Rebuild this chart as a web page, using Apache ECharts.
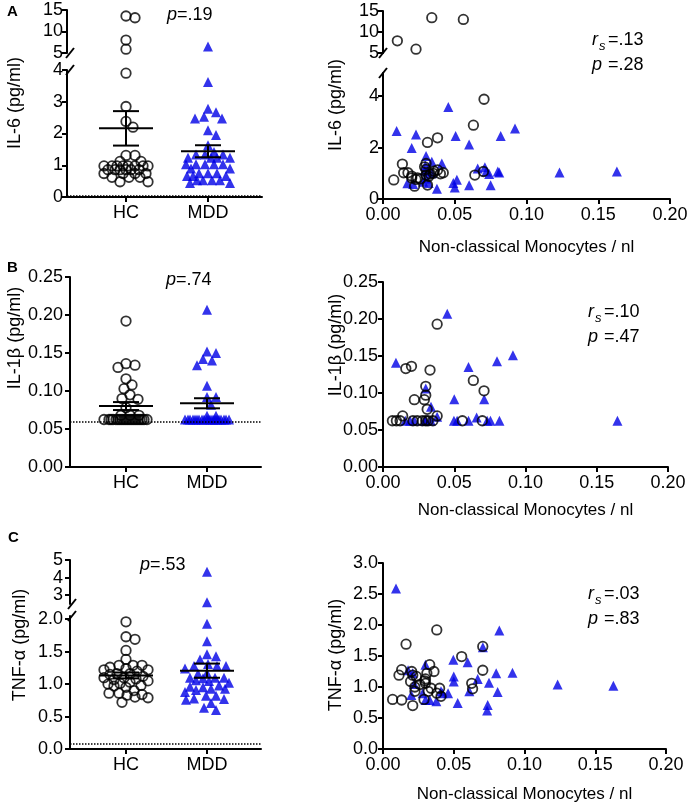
<!DOCTYPE html>
<html><head><meta charset="utf-8">
<script src="https://cdn.jsdelivr.net/npm/echarts@6/dist/echarts.min.js"></script>
<style>html,body{margin:0;padding:0;background:#fff}#c{width:691px;height:806px}</style>
</head><body><div id="c"></div>
<script>
// ---------------- DATA ----------------
const groups = ['HC', 'MDD'];
const xTitle = 'Non-classical Monocytes / nl';

const il6HC = [13.6, 13.2, 8.0, 5.9, 3.9, 2.85, 2.38, 2.2, 1.31, 1.31, 1.12, 1.12, 0.98, 0.98, 0.98, 0.98, 0.98, 0.98, 0.98, 0.98, 0.86, 0.86, 0.86, 0.86, 0.86, 0.86, 0.74, 0.74, 0.74, 0.74, 0.62, 0.62, 0.62, 0.48, 0.48];
const il6MDD = [6.5, 3.62, 2.78, 2.67, 2.53, 2.47, 2.47, 2.1, 1.95, 1.63, 1.42, 1.34, 1.34, 1.34, 1.24, 1.24, 1.24, 1.24, 1.03, 1.03, 1.03, 1.03, 1.03, 0.9, 0.9, 0.75, 0.75, 0.75, 0.66, 0.66, 0.66, 0.53, 0.53, 0.53, 0.53, 0.44, 0.44];

const il1bHC = [0.192, 0.136, 0.134, 0.131, 0.116, 0.108, 0.103, 0.095, 0.090, 0.089, 0.078, 0.068, 0.068, 0.068,
  0.0625, 0.0625, 0.0625, 0.0625, 0.0625, 0.0625, 0.0625, 0.0625, 0.0625, 0.0625,
  0.0625, 0.0625, 0.0625, 0.0625, 0.0625, 0.0625, 0.0625, 0.0625, 0.0625, 0.0625];
const il1bMDD = [0.207, 0.152, 0.150, 0.142, 0.140, 0.134, 0.107, 0.092, 0.092, 0.082, 0.0675, 0.0675,
  0.0625, 0.0625, 0.0625, 0.0625, 0.0625, 0.0625, 0.0625, 0.0625, 0.0625, 0.0625,
  0.0625, 0.0625, 0.0625, 0.0625, 0.0625, 0.0625, 0.0625, 0.0625, 0.0625, 0.0625];

const tnfHC = [1.96, 1.73, 1.69, 1.52, 1.38, 1.29, 1.29, 1.29, 1.26, 1.24, 1.22, 1.22, 1.2, 1.16, 1.16, 1.15, 1.12, 1.10, 1.10, 1.08, 1.07, 1.05, 1.03, 1.01, 1.0, 0.98, 0.97, 0.95, 0.9, 0.86, 0.86, 0.84, 0.83, 0.8, 0.79, 0.72];
const tnfMDD = [4.33, 2.6, 1.93, 1.66, 1.46, 1.43, 1.38, 1.31, 1.28, 1.28, 1.28, 1.24, 1.17, 1.16, 1.10, 1.10, 1.10, 1.09, 1.06, 1.05, 1.02, 0.98, 0.96, 0.95, 0.93, 0.93, 0.91, 0.88, 0.82, 0.82, 0.78, 0.77, 0.76, 0.71, 0.635, 0.60];

// detection limits (dotted lines)
const lodIl6 = 0.05;
const lodIl1b = 0.0625;
const lodTnf = 0.08;

// scatter: [monocytes/nl, cytokine]
const scIl6HC = [[0.034,13.4],[0.056,13.0],[0.010,7.9],[0.023,5.9],[0.0704,3.88],[0.063,2.87],[0.038,2.38],[0.031,2.2],
  [0.0135,1.36],[0.0144,1.02],[0.0174,1.02],[0.0075,0.74],[0.020,0.89],[0.023,0.76],[0.022,0.5],[0.030,1.38],[0.030,1.15],
  [0.030,0.93],[0.031,0.54],[0.035,1.0],[0.038,1.13],[0.042,1.02],[0.064,0.93],[0.024,0.82],[0.029,1.25],[0.033,0.97],
  [0.0355,1.08],[0.040,0.98],[0.070,1.07],[0.020,0.82],[0.026,0.78],[0.032,0.88]];
const scIl6MDD = [[0.0095,2.64],[0.023,2.51],[0.020,1.98],[0.0455,3.58],[0.0506,2.45],[0.060,2.12],[0.092,2.74],[0.082,2.45],
  [0.030,1.67],[0.034,1.45],[0.041,1.38],[0.0295,1.3],[0.017,0.61],[0.021,0.58],[0.028,0.67],[0.030,0.8],[0.0318,0.62],
  [0.031,1.07],[0.0376,0.4],[0.049,0.62],[0.0515,0.75],[0.050,0.45],[0.060,0.53],[0.066,1.19],[0.071,1.23],[0.072,1.07],
  [0.074,0.97],[0.075,0.53],[0.080,1.07],[0.081,1.03],[0.123,1.03],[0.163,1.07],[0.029,1.1],[0.034,1.0]];
const scIl1bHC = [[0.038,0.193],[0.016,0.133],[0.020,0.136],[0.033,0.131],[0.0634,0.117],[0.0709,0.103],[0.030,0.109],
  [0.030,0.097],[0.029,0.091],[0.022,0.091],[0.031,0.078],[0.038,0.069],[0.0138,0.069],[0.0066,0.0625],[0.0094,0.0625],
  [0.012,0.0625],[0.021,0.0625],[0.024,0.0625],[0.0276,0.0625],[0.030,0.0625],[0.0316,0.0625],[0.035,0.0625],[0.0557,0.0625],[0.0697,0.0625]];
const scIl1bMDD = [[0.0451,0.207],[0.0091,0.141],[0.0912,0.151],[0.080,0.143],[0.060,0.135],[0.030,0.106],[0.050,0.0915],
  [0.071,0.0915],[0.0337,0.0815],[0.038,0.068],[0.0657,0.067],[0.0156,0.0625],[0.019,0.0625],[0.022,0.0625],[0.0292,0.0625],
  [0.0336,0.0625],[0.0498,0.0625],[0.052,0.0625],[0.060,0.0625],[0.0731,0.0625],[0.0754,0.0625],[0.0817,0.0625],[0.1645,0.0625],[0.030,0.0625]];
const scTnfHC = [[0.038,1.92],[0.0163,1.69],[0.0705,1.655],[0.0556,1.49],[0.0705,1.27],[0.0132,1.28],[0.0113,1.19],[0.033,1.36],
  [0.036,1.25],[0.031,1.22],[0.0203,1.25],[0.021,1.19],[0.0236,1.17],[0.0195,1.09],[0.030,1.13],[0.030,1.06],[0.0295,1.1],
  [0.0226,0.93],[0.0225,1.0],[0.040,0.98],[0.041,0.85],[0.038,0.90],[0.034,0.98],[0.0627,1.06],[0.0633,0.97],[0.0068,0.80],
  [0.0132,0.79],[0.021,0.70],[0.029,0.8],[0.026,1.04],[0.032,0.93]];
const scTnfMDD = [[0.0092,2.59],[0.0822,1.91],[0.0706,1.64],[0.0497,1.44],[0.0598,1.40],[0.030,1.36],[0.050,1.17],[0.050,1.09],
  [0.080,1.22],[0.0915,1.23],[0.0669,1.13],[0.0749,1.07],[0.1234,1.04],[0.1628,1.02],[0.081,0.92],[0.061,0.93],[0.0528,0.74],
  [0.074,0.71],[0.0736,0.62],[0.0177,1.27],[0.021,1.22],[0.022,1.05],[0.020,0.87],[0.028,0.90],[0.030,0.79],[0.033,0.79],
  [0.0377,0.77],[0.042,0.9],[0.046,0.9],[0.041,0.93]];

// ---------------- LAYOUT / STYLE ----------------
const FONT = "'Liberation Sans', Arial, Helvetica, sans-serif";
const BLUE = '#0000e6';
const G = {
  aLu: {left: 67, top: 10, width: 195, height: 43, ymin: 5, ymax: 15, xmin: 0.2805, xmax: 2.6585},
  aLl: {left: 67, top: 70, width: 195, height: 127, ymin: 0, ymax: 4, xmin: 0.2805, xmax: 2.6585},
  aRu: {left: 383, top: 11, width: 287, height: 42, ymin: 5, ymax: 15, xmin: 0, xmax: 0.2},
  aRl: {left: 383, top: 73, width: 287, height: 126, ymin: 0, ymax: 4.9, xmin: 0, xmax: 0.2},
  bL:  {left: 70, top: 277, width: 191, height: 190, ymin: 0, ymax: 0.25, xmin: 0.3086, xmax: 2.6667},
  bR:  {left: 383, top: 282, width: 285, height: 185, ymin: 0, ymax: 0.25, xmin: 0, xmax: 0.2},
  cLu: {left: 70, top: 560, width: 191, height: 44, ymin: 2.5, ymax: 5, xmin: 0.3086, xmax: 2.6667},
  cLl: {left: 70, top: 616, width: 191, height: 133, ymin: 0, ymax: 2.05, xmin: 0.3086, xmax: 2.6667},
  cR:  {left: 383, top: 563, width: 283, height: 186, ymin: 0, ymax: 3, xmin: 0, xmax: 0.2}
};
const order = ['aLu','aLl','aRu','aRl','bL','bR','cLu','cLl','cR'];
const gi = k => order.indexOf(k);

const axisLine = {show: true, onZero: false, lineStyle: {color: '#000', width: 2}};
const tick = vals => ({show: true, length: 5, customValues: vals, lineStyle: {color: '#000', width: 2}});
const lab = (vals, fmt, margin) => ({show: true, customValues: vals, formatter: fmt, color: '#000', fontSize: 18,
  fontFamily: FONT, margin: margin, showMinLabel: true, showMaxLabel: true, hideOverlap: false});

function yAx(k, tickVals, fmt, margin, labVals) {
  const g = G[k];
  return {type: 'value', gridIndex: gi(k), min: g.ymin, max: g.ymax, axisLine, splitLine: {show: false},
    axisTick: tick(tickVals), axisLabel: lab(labVals || tickVals, fmt, margin)};
}
function xAxHidden(k) {
  const g = G[k];
  return {type: 'value', gridIndex: gi(k), min: g.xmin, max: g.xmax, show: false};
}
function xAxGroup(k) {
  const g = G[k];
  return {type: 'value', gridIndex: gi(k), min: g.xmin, max: g.xmax, axisLine, splitLine: {show: false},
    axisTick: tick([1, 2]), axisLabel: lab([1, 2], v => groups[Math.round(v) - 1], 7)};
}
function xAxMono(k, gap) {
  const g = G[k];
  const vals = [0, 0.05, 0.1, 0.15, 0.2];
  return {type: 'value', gridIndex: gi(k), min: g.xmin, max: g.xmax, axisLine, splitLine: {show: false},
    axisTick: tick(vals), axisLabel: lab(vals, v => v.toFixed(2), 7),
    name: xTitle, nameLocation: 'middle', nameGap: gap,
    nameTextStyle: {color: '#000', fontSize: 17, fontFamily: FONT}};
}

const grid = order.map(k => ({left: G[k].left, top: G[k].top, width: G[k].width, height: G[k].height,
  containLabel: false, outerBoundsMode: 'none'}));

const xAxis = [xAxHidden('aLu'), xAxGroup('aLl'), xAxHidden('aRu'), xAxMono('aRl', 40),
  xAxGroup('bL'), xAxMono('bR', 35), xAxHidden('cLu'), xAxGroup('cLl'), xAxMono('cR', 37)];
const f2 = v => v.toFixed(2), f1 = v => v.toFixed(1), f0 = v => String(Math.round(v));
const yAxis = [
  yAx('aLu', [5, 10, 15], f0, 4),
  yAx('aLl', [0, 1, 2, 3, 4], f0, 4),
  yAx('aRu', [5, 10, 15], f0, 4),
  yAx('aRl', [0, 2, 4], f0, 4),
  yAx('bL', [0, 0.05, 0.1, 0.15, 0.2, 0.25], f2, 7),
  yAx('bR', [0, 0.05, 0.1, 0.15, 0.2, 0.25], f2, 5),
  yAx('cLu', [3, 4, 5], f0, 7, [3, 5]),
  yAx('cLl', [0, 0.5, 1, 1.5, 2], f1, 7),
  yAx('cR', [0, 0.5, 1, 1.5, 2, 2.5, 3], f1, 5),
  // companion axis carrying the middle label of the tight upper TNF segment
  {type: 'value', gridIndex: gi('cLu'), position: 'left', offset: 0, min: G.cLu.ymin, max: G.cLu.ymax,
    axisLine: {show: false}, axisTick: {show: false}, splitLine: {show: false},
    axisLabel: lab([4], f0, 7)}
];

// pixel helpers (for swarm layout only)
const pyIn = (k, v) => G[k].top + (G[k].ymax - v) / (G[k].ymax - G[k].ymin) * G[k].height;
function swarm(values, center, kLow, kUp, d, maxHalf) {
  const g = G[kLow];
  const xPx = g.width / (g.xmax - g.xmin);
  const pyOf = v => (kUp && v > G[kLow].ymax) ? pyIn(kUp, v) : pyIn(kLow, v);
  const idx = values.map((v, i) => i).sort((a, b) => values[b] - values[a]);
  const placed = [], out = [];
  for (const i of idx) {
    const v = values[i], py = pyOf(v);
    let best = 0, bestScore = -1;
    for (let s = 0; s <= 2 * maxHalf; s++) {
      const off = s === 0 ? 0 : (s % 2 ? (s + 1) / 2 : -s / 2);
      let md = Infinity;
      for (const p of placed) {
        const dd = Math.hypot(p[0] - off, p[1] - py);
        if (dd < md) md = dd;
      }
      if (md >= d) { best = off; bestScore = md; break; }
      if (md > bestScore) { bestScore = md; best = off; }
    }
    placed.push([best, py]);
    out.push([center + best / xPx, v]);
  }
  return out;
}
function meanSem(a) {
  const n = a.length, m = a.reduce((s, x) => s + x, 0) / n;
  const sd = Math.sqrt(a.reduce((s, x) => s + (x - m) * (x - m), 0) / (n - 1));
  return [m, sd / Math.sqrt(n)];
}

const circleStyle = {color: 'rgba(255,255,255,0)', borderColor: '#000', borderWidth: 1.8};
const triStyle = {color: BLUE};
function sc(k, data, hc, extra) {
  return Object.assign({type: 'scatter', xAxisIndex: gi(k), yAxisIndex: gi(k), data,
    symbol: hc ? 'circle' : 'triangle', symbolSize: hc ? 9.5 : 10, itemStyle: hc ? circleStyle : triStyle,
    silent: true, z: hc ? 3 : 2}, extra || {});
}
function lodLine(v) {
  return {silent: true, symbol: 'none', label: {show: false},
    lineStyle: {type: 'dotted', color: '#000', width: 1.5}, data: [{yAxis: v}]};
}
function meanSeries(k, pairs) {
  return {type: 'custom', xAxisIndex: gi(k), yAxisIndex: gi(k), silent: true, z: 5,
    data: pairs,
    renderItem: (p, api) => {
      const x = api.value(0), m = api.value(1), s = api.value(2);
      const c = api.coord([x, m]), t = api.coord([x, m + s]), b = api.coord([x, m - s]);
      const st = {stroke: '#000', lineWidth: 2};
      return {type: 'group', children: [
        {type: 'line', shape: {x1: c[0] - 27, y1: c[1], x2: c[0] + 27, y2: c[1]}, style: st},
        {type: 'line', shape: {x1: c[0] - 13, y1: t[1], x2: c[0] + 13, y2: t[1]}, style: st},
        {type: 'line', shape: {x1: c[0] - 13, y1: b[1], x2: c[0] + 13, y2: b[1]}, style: st},
        {type: 'line', shape: {x1: c[0], y1: t[1], x2: c[0], y2: b[1]}, style: st}
      ]};
    }};
}

const series = [];
function dotPanel(kLow, kUp, hcVals, mddVals, lod) {
  const D = 8.5, MH = 22;
  const hc = swarm(hcVals, 1, kLow, kUp, D, MH);
  const md = swarm(mddVals, 2, kLow, kUp, D, MH);
  const lowMax = G[kLow].ymax;
  const lo = a => a.filter(p => p[1] <= lowMax), up = a => a.filter(p => p[1] > lowMax);
  series.push(sc(kLow, lo(hc), true, {markLine: lodLine(lod)}));
  series.push(sc(kLow, lo(md), false));
  if (kUp) { series.push(sc(kUp, up(hc), true)); series.push(sc(kUp, up(md), false)); }
  const a = meanSem(hcVals), b = meanSem(mddVals);
  series.push(meanSeries(kLow, [[1, a[0], a[1]], [2, b[0], b[1]]]));
}
function scPanel(kLow, kUp, hcPts, mddPts) {
  const lowMax = G[kLow].ymax;
  const lo = a => a.filter(p => p[1] <= lowMax), up = a => a.filter(p => p[1] > lowMax);
  series.push(sc(kLow, lo(mddPts), false));
  series.push(sc(kLow, lo(hcPts), true));
  if (kUp) { series.push(sc(kUp, up(mddPts), false)); series.push(sc(kUp, up(hcPts), true)); }
}
dotPanel('aLl', 'aLu', il6HC, il6MDD, lodIl6);
dotPanel('bL', null, il1bHC, il1bMDD, lodIl1b);
dotPanel('cLl', 'cLu', tnfHC, tnfMDD, lodTnf);
scPanel('aRl', 'aRu', scIl6HC, scIl6MDD);
scPanel('bR', null, scIl1bHC, scIl1bMDD);
scPanel('cR', null, scTnfHC, scTnfMDD);

// ---------------- TEXT / DECORATION ----------------
function txt(x, y, text, o) {
  o = o || {};
  const al = o.align || 'left';
  return {type: 'text', x, y, rotation: o.rot || 0, silent: true, z: 10,
    style: {text, fill: '#000', fontSize: o.size || 18, fontFamily: FONT, fontWeight: o.weight || 'normal',
      fontStyle: o.italic ? 'italic' : 'normal', align: al, textAlign: al,
      verticalAlign: 'middle', textVerticalAlign: 'middle',
      rich: {i: {fontStyle: 'italic', fontSize: o.size || 18, fontFamily: FONT, fill: '#000'}}}};
}
const R90 = Math.PI / 2;
function breakMarks(kUp, kLow, dx) {
  const ax = G[kLow].left + dx;
  const y1 = G[kUp].top + G[kUp].height, y2 = G[kLow].top;
  const st = {stroke: '#000', lineWidth: 2};
  return [
    {type: 'line', silent: true, z: 10, shape: {x1: ax - 4, y1: y1 + 5, x2: ax + 4, y2: y1 - 5}, style: st},
    {type: 'line', silent: true, z: 10, shape: {x1: ax - 4, y1: y2 + 5, x2: ax + 4, y2: y2 - 5}, style: st}
  ];
}
function rsBlock(x, y, r, p) {
  return [
    txt(x, y, 'r', {italic: true}),
    txt(x + 7, y + 6, 's', {italic: true, size: 13}),
    txt(x + 16, y, r),
    txt(x, y + 25, 'p', {italic: true}),
    txt(x + 16, y + 25, p)
  ];
}
const graphic = [
  txt(7, 12, 'A', {weight: 'bold', size: 15}),
  txt(7, 268, 'B', {weight: 'bold', size: 15}),
  txt(8, 538, 'C', {weight: 'bold', size: 15}),
  txt(15, 103, 'IL-6 (pg/ml)', {rot: R90, align: 'center'}),
  txt(336, 105, 'IL-6 (pg/ml)', {rot: R90, align: 'center'}),
  txt(15, 338, 'IL-1β (pg/ml)', {rot: R90, align: 'center'}),
  txt(336, 345, 'IL-1β (pg/ml)', {rot: R90, align: 'center'}),
  txt(20, 645, 'TNF-α (pg/ml)', {rot: R90, align: 'center'}),
  txt(336, 655, 'TNF-α (pg/ml)', {rot: R90, align: 'center'}),
  txt(167, 15, '{i|p}=.19'),
  txt(166, 280, '{i|p}=.74'),
  txt(140, 565, '{i|p}=.53'),
  ...rsBlock(592, 40, '=.13', '=.28'),
  ...rsBlock(588, 312, '=.10', '=.47'),
  ...rsBlock(588, 594, '=.03', '=.83'),
  ...breakMarks('aLu', 'aLl', 3),
  ...breakMarks('aRu', 'aRl', 0),
  ...breakMarks('cLu', 'cLl', 2)
];

const chart = echarts.init(document.getElementById('c'), null, {renderer: 'canvas'});
chart.setOption({animation: false, backgroundColor: '#fff', grid, xAxis, yAxis, series, graphic});
</script></body></html>
